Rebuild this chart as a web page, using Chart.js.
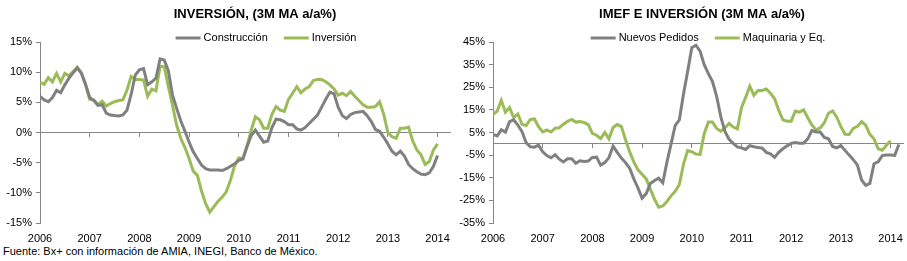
<!DOCTYPE html>
<html>
<head>
<meta charset="utf-8">
<script src="https://cdn.jsdelivr.net/npm/chart.js@4.4.1/dist/chart.umd.min.js"></script>
<style>
  body { margin: 0; background: #fff; width: 907px; height: 261px; position: relative; overflow: hidden;
         font-family: "Liberation Sans", Arial, sans-serif; }
  #chartLeft { position: absolute; left: 0; top: 0; }
  #chartRight { position: absolute; left: 450px; top: 0; }
  #fuente { position: absolute; left: 3px; top: 245px; font-size: 11px; line-height: 13px; color: #000; }
</style>
</head>
<body>
<canvas id="chartLeft" width="452" height="245"></canvas>
<canvas id="chartRight" width="457" height="245"></canvas>
<div id="fuente">Fuente: Bx+ con información de AMIA, INEGI, Banco de México.</div>
<script>
// monthly series, Jan 2006 onwards (3M MA a/a %)
const years = ['2006', '2007', '2008', '2009', '2010', '2011', '2012', '2013', '2014']

const construccion = [
    6.0, 5.4, 5.1, 5.8, 7.0, 6.6, 7.9, 9.0, 9.9, 10.7, 9.8, 8.0,
    5.8, 5.3, 4.5, 4.6, 3.2, 2.9, 2.8, 2.75, 2.9, 3.7, 6.3, 9.5,
    10.4, 10.6, 7.9, 8.4, 9.0, 12.2, 12.0, 10.2, 6.2, 4.0, 1.9, 0.2,
    -1.6, -3.2, -4.3, -5.4, -6.0, -6.2, -6.2, -6.2, -6.3, -6.0, -5.6, -5.2,
    -4.6, -4.4, -2.3, -0.5, 0.4, -0.6, -1.6, -1.4, 0.8, 2.2, 2.1, 1.8,
    1.3, 1.3, 0.6, 0.4, 0.8, 1.5, 2.2, 2.9, 4.2, 5.5, 6.7, 6.4,
    4.2, 2.8, 2.3, 3.0, 3.3, 3.4, 3.5, 2.8, 1.8, 0.5, 0.2, -0.8,
    -1.9, -3.1, -3.7, -3.1, -3.9, -5.3, -6.0, -6.5, -6.9, -7.0, -6.7, -5.6,
    -3.8
]
const inversion = [
    8.3, 8.0, 9.1, 8.4, 9.8, 8.4, 9.8, 9.4, 10.1, 10.8, 9.9, 7.9,
    5.5, 5.4, 4.6, 5.2, 4.4, 4.8, 5.1, 5.3, 5.4, 7.0, 9.3, 8.8,
    8.8, 8.7, 6.0, 7.2, 6.9, 11.0, 10.9, 7.6, 4.5, 1.2, -1.0, -2.5,
    -4.3, -6.4, -7.1, -9.7, -11.8, -13.2, -12.3, -11.4, -10.7, -9.8, -7.9, -5.5,
    -4.2, -4.3, -2.2, 0.4, 2.6, 2.1, 0.7, 0.7, 3.0, 4.3, 3.7, 3.5,
    5.5, 6.5, 7.6, 6.6, 7.2, 7.6, 8.6, 8.8, 8.8, 8.4, 7.9, 7.2,
    6.2, 6.5, 6.1, 6.8, 6.0, 5.3, 4.6, 4.2, 4.2, 4.3, 5.1, 3.0,
    0.0, -0.7, -0.95, 0.7, 0.7, 0.9, -1.4, -2.9, -3.7, -5.3, -4.8, -2.9,
    -1.9
]
const nuevosPedidos = [
    4.1, 3.5, 6.2, 5.2, 9.8, 10.6, 8.3, 5.4, 0.5, -1.3, -1.5, -0.6,
    -3.5, -5.2, -6.2, -4.8, -6.8, -8.0, -6.6, -6.6, -8.6, -7.5, -7.8, -7.6,
    -6.0, -5.9, -9.4, -8.3, -6.1, -1.0, -3.8, -6.3, -8.3, -10.8, -15.5, -19.5,
    -24.0, -22.0, -17.5, -16.2, -15.2, -17.2, -8.1, 0.0, 8.1, 10.6, 22.0, 32.0,
    42.5, 43.6, 41.0, 35.0, 31.0, 27.5, 21.0, 12.0, 5.5, 2.0, 0.2, -1.4,
    -1.8, -2.5, -0.8, -1.3, -1.6, -1.9, -3.8, -4.4, -6.0, -3.8, -2.2, -0.9,
    0.2, 0.6, 0.3, 0.3, 2.2, 5.8, 5.2, 5.2, 2.8, 2.2, -1.2, -1.8,
    -0.8, -2.9, -5.0, -7.0, -9.4, -16.0, -18.4, -17.5, -8.8, -8.0, -5.2, -4.9,
    -4.9, -5.1, -0.3
]
const maquinaria = [
    13.0, 14.4, 19.2, 14.0, 16.0, 11.6, 13.2, 8.6, 8.1, 10.8, 11.0, 7.6,
    5.3, 6.1, 5.2, 6.9, 7.1, 8.7, 9.9, 10.8, 9.6, 9.8, 9.4, 8.5,
    4.6, 3.8, 2.3, 5.0, 2.2, 7.2, 8.5, 7.6, 1.8, -3.5, -8.0, -11.5,
    -13.5, -15.5, -20.0, -24.5, -28.0, -27.5, -25.5, -23.0, -21.0, -18.0, -9.0, -3.0,
    -3.5, -4.5, -4.7, 4.5, 9.6, 9.6, 6.8, 5.6, 7.0, 9.0, 7.4, 6.6,
    16.0, 20.5, 25.5, 21.5, 23.6, 23.6, 24.2, 22.4, 19.9, 14.8, 10.6, 10.0,
    10.0, 14.5, 14.0, 15.0, 11.5, 8.3, 6.2, 7.0, 9.3, 13.5, 14.5, 11.8,
    7.6, 4.2, 4.1, 6.8, 7.7, 9.8, 8.2, 4.2, 2.2, -2.2, -2.8, -0.6,
    1.4
]

const GRAY = '#808080'
const GREEN = '#9bbb59'
const AXIS = '#868686'
const FONT = '"Liberation Sans", Arial, sans-serif'

Chart.defaults.font.family = FONT
Chart.defaults.font.size = 11
Chart.defaults.color = '#000'

function toPoints(values) {
    // x = months since Jan 2006
    return values.map((v, i) => ({x: i, y: v}))
}

function yearTicks(scale) {
    scale.ticks = years.map((y, k) => ({value: k * 12}))
}

// title + line legend drawn above the plot area
const headerPlugin = {
    id: 'header',
    afterDraw(chart, args, opts) {
        const ctx = chart.ctx
        ctx.save()
        ctx.fillStyle = '#000'
        ctx.textBaseline = 'middle'
        ctx.textAlign = 'center'
        ctx.font = 'bold 13px ' + FONT
        ctx.fillText(opts.title, opts.titleX, opts.titleY)

        ctx.font = '11px ' + FONT
        ctx.textAlign = 'left'
        const items = chart.data.datasets.map(ds => ({
            text: ds.label,
            color: ds.borderColor,
            width: 25 + 3 + ctx.measureText(ds.label).width
        }))
        const total = items.reduce((s, it) => s + it.width, 0) + 16 * (items.length - 1)
        let x = opts.legendX - total / 2
        for (const it of items) {
            ctx.strokeStyle = it.color
            ctx.lineWidth = 3
            ctx.beginPath()
            ctx.moveTo(x, opts.legendY)
            ctx.lineTo(x + 25, opts.legendY)
            ctx.stroke()
            ctx.fillText(it.text, x + 28, opts.legendY)
            x += it.width + 16
        }
        ctx.restore()
    }
}

function makeChart(canvasId, cfg) {
    return new Chart(document.getElementById(canvasId), {
        type: 'line',
        data: {
            datasets: [
                {label: cfg.names[0], data: toPoints(cfg.series[0]), borderColor: GRAY, backgroundColor: GRAY},
                {label: cfg.names[1], data: toPoints(cfg.series[1]), borderColor: GREEN, backgroundColor: GREEN}
            ]
        },
        options: {
            responsive: false,
            animation: false,
            layout: {padding: {top: 42, right: cfg.padRight, left: 0, bottom: 0}},
            elements: {
                line: {borderWidth: 3, tension: 0},
                point: {radius: 0}
            },
            plugins: {
                legend: {display: false},
                tooltip: {enabled: false},
                header: {
                    title: cfg.title, titleX: cfg.titleX, titleY: 14,
                    legendX: cfg.legendX, legendY: 38
                }
            },
            scales: {
                x: {
                    type: 'linear', min: 0, max: 99, position: 'bottom',
                    afterBuildTicks: yearTicks,
                    afterFit: s => { s.height = 22 },
                    grid: {display: false},
                    border: {display: false},
                    ticks: {padding: 1, maxRotation: 0, callback: v => years[v / 12]}
                },
                x0: {
                    type: 'linear', min: 0, max: 99, position: {y: 0},
                    afterBuildTicks: yearTicks,
                    grid: {drawOnChartArea: false, tickLength: 4, color: AXIS},
                    border: {color: AXIS, width: 1},
                    ticks: {display: false}
                },
                y: {
                    min: cfg.yMin, max: cfg.yMax,
                    afterFit: s => { s.width = cfg.yWidth },
                    grid: {drawOnChartArea: false, tickLength: 4, color: AXIS},
                    border: {color: AXIS, width: 1},
                    ticks: {stepSize: cfg.yStep, padding: 4, callback: v => v + '%'}
                }
            }
        },
        plugins: [headerPlugin]
    })
}

makeChart('chartLeft', {
    title: 'INVERSIÓN, (3M MA a/a%)', titleX: 255, legendX: 266,
    names: ['Construcción', 'Inversión'],
    series: [construccion, inversion],
    yMin: -15, yMax: 15, yStep: 5, yWidth: 40, padRight: 2
})

makeChart('chartRight', {
    title: 'IMEF E INVERSIÓN (3M MA a/a%)', titleX: 252, legendX: 258,
    names: ['Nuevos Pedidos', 'Maquinaria y Eq.'],
    series: [nuevosPedidos, maquinaria],
    yMin: -35, yMax: 45, yStep: 10, yWidth: 43, padRight: 4
})
</script>
</body>
</html>
